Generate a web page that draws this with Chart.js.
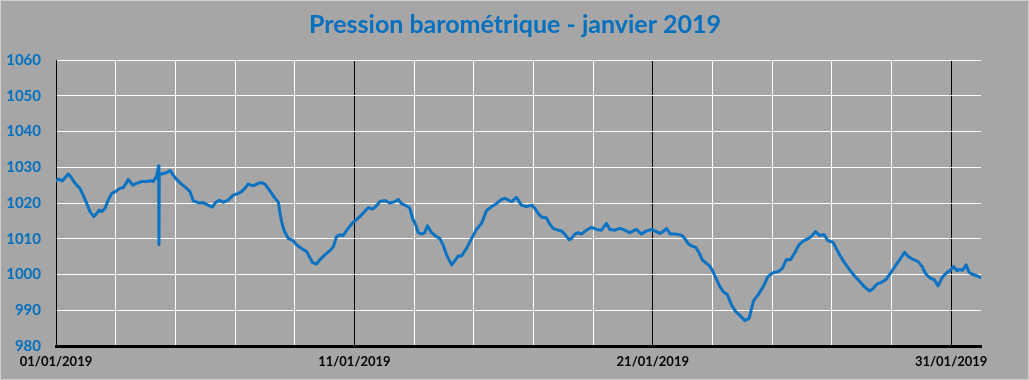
<!DOCTYPE html>
<html lang="fr">
<head>
<meta charset="utf-8">
<title>Pression barométrique - janvier 2019</title>
<script src="https://cdn.jsdelivr.net/npm/chart.js@4.4.1/dist/chart.umd.min.js"></script>
<style>
    html, body {
        margin: 0;
        padding: 0;
        background: #a6a6a6;
    }

    #wrap {
        position: relative;
        width: 1029px;
        height: 380px;
    }
</style>
</head>
<body>

<div id="wrap">
    <canvas id="pressureChart" width="1029" height="380"></canvas>
</div>

<script>

// ================================
// DATA
// ================================

// jours écoulés depuis le 01/01/2019 00:00
const jours = [
    0.00, 0.08, 0.22, 0.41, 0.49, 0.64, 0.80, 0.91, 1.03, 1.14,
    1.27, 1.36, 1.45, 1.53, 1.64, 1.75, 1.87, 2.03, 2.14, 2.25,
    2.35, 2.42, 2.57, 2.70, 2.87, 3.04, 3.15, 3.26, 3.37, 3.44,
    3.45, 3.46, 3.54, 3.71, 3.82, 3.93, 4.04, 4.21, 4.38, 4.49,
    4.60, 4.77, 4.93, 5.10, 5.24, 5.33, 5.47, 5.60, 5.77, 5.94,
    6.11, 6.22, 6.33, 6.44, 6.61, 6.78, 6.89, 7.00, 7.11, 7.23,
    7.34, 7.45, 7.50, 7.56, 7.64, 7.78, 7.95, 8.06, 8.23, 8.40,
    8.49, 8.60, 8.73, 8.84, 9.01, 9.18, 9.29, 9.40, 9.51, 9.62,
    9.79, 9.96, 10.07, 10.18, 10.29, 10.46, 10.61, 10.74, 10.85, 11.02,
    11.19, 11.36, 11.47, 11.58, 11.75, 11.86, 11.95, 12.06, 12.14, 12.25,
    12.36, 12.45, 12.59, 12.73, 12.86, 12.97, 13.09, 13.26, 13.37, 13.48,
    13.59, 13.76, 13.93, 14.09, 14.26, 14.43, 14.60, 14.76, 14.93, 15.04,
    15.19, 15.27, 15.43, 15.60, 15.77, 15.94, 16.05, 16.16, 16.27, 16.44,
    16.53, 16.66, 16.83, 16.94, 17.05, 17.20, 17.28, 17.39, 17.50, 17.61,
    17.78, 17.95, 18.11, 18.28, 18.45, 18.56, 18.73, 18.89, 19.06, 19.23,
    19.45, 19.62, 19.79, 19.96, 20.12, 20.23, 20.35, 20.46, 20.59, 20.79,
    20.96, 21.07, 21.18, 21.30, 21.44, 21.55, 21.66, 21.80, 21.91, 22.02,
    22.13, 22.24, 22.36, 22.49, 22.64, 22.78, 22.94, 23.08, 23.23, 23.31,
    23.38, 23.53, 23.70, 23.86, 24.03, 24.20, 24.34, 24.48, 24.61, 24.76,
    24.90, 25.06, 25.20, 25.31, 25.46, 25.59, 25.73, 25.87, 26.04, 26.15,
    26.26, 26.40, 26.54, 26.69, 26.82, 26.96, 27.10, 27.27, 27.40, 27.51,
    27.66, 27.83, 27.96, 28.11, 28.27, 28.44, 28.55, 28.72, 28.89, 29.03,
    29.14, 29.28, 29.45, 29.56, 29.71, 29.84, 29.97, 30.08, 30.19, 30.28,
    30.39, 30.50, 30.60, 30.73, 30.90, 31.00
];

// pression en hPa
const pression = [
    1026.2, 1026.7, 1026.2, 1028.1, 1027.4, 1025.5, 1024.1, 1022.2, 1019.9, 1017.6,
    1016.2, 1017.0, 1018.0, 1017.6, 1018.5, 1020.8, 1022.7, 1023.4, 1024.1, 1024.3,
    1025.5, 1026.6, 1025.0, 1025.5, 1026.0, 1026.0, 1026.2, 1026.0, 1027.5, 1030.4,
    1008.3, 1028.1, 1028.1, 1028.5, 1029.1, 1027.8, 1026.6, 1025.3, 1024.1, 1023.2,
    1020.6, 1020.1, 1020.1, 1019.4, 1018.8, 1020.0, 1020.8, 1020.2, 1020.8, 1022.2,
    1022.7, 1023.2, 1024.1, 1025.3, 1024.8, 1025.5, 1025.7, 1025.3, 1024.1, 1022.7,
    1021.3, 1020.3, 1017.6, 1014.8, 1012.4, 1010.1, 1009.5, 1008.3, 1007.3, 1006.4,
    1005.0, 1003.3, 1002.9, 1004.1, 1005.5, 1006.7, 1007.7, 1010.6, 1011.1, 1010.9,
    1012.9, 1014.6, 1015.3, 1016.2, 1017.1, 1018.7, 1018.3, 1019.2, 1020.4, 1020.7,
    1020.0, 1020.4, 1021.0, 1019.8, 1019.2, 1018.5, 1015.7, 1013.8, 1011.7, 1011.3,
    1011.7, 1013.6, 1011.7, 1010.7, 1010.1, 1008.3, 1005.5, 1002.7, 1003.9, 1005.2,
    1005.2, 1007.3, 1010.1, 1012.6, 1014.3, 1017.9, 1019.0, 1019.8, 1021.0, 1021.3,
    1020.7, 1020.4, 1021.6, 1019.4, 1019.0, 1019.4, 1018.5, 1017.1, 1016.1, 1015.8,
    1014.3, 1012.9, 1012.4, 1012.2, 1011.3, 1009.7, 1010.1, 1011.3, 1011.7, 1011.3,
    1012.4, 1013.2, 1012.6, 1012.4, 1014.3, 1012.6, 1012.4, 1012.9, 1012.4, 1011.7,
    1012.6, 1011.3, 1012.2, 1012.6, 1012.0, 1011.5, 1012.0, 1012.9, 1011.3, 1011.3,
    1011.0, 1010.1, 1008.7, 1008.0, 1007.6, 1006.1, 1004.1, 1003.1, 1002.4, 1000.8,
    998.7, 996.8, 995.2, 994.5, 991.5, 989.6, 988.4, 987.1, 987.7, 990.5,
    992.7, 994.3, 996.6, 999.4, 1000.5, 1000.8, 1001.7, 1004.2, 1004.1, 1006.1,
    1008.3, 1009.5, 1010.0, 1010.6, 1012.0, 1010.9, 1011.2, 1009.5, 1009.0, 1007.3,
    1005.5, 1003.6, 1002.0, 1000.3, 999.1, 997.8, 996.5, 995.4, 996.2, 997.3,
    997.8, 998.7, 1000.3, 1002.2, 1004.1, 1006.2, 1005.1, 1004.2, 1003.6, 1002.2,
    1000.3, 999.1, 998.4, 996.8, 999.3, 1000.4, 1001.2, 1002.2, 1001.1, 1001.4,
    1001.2, 1002.7, 1000.6, 1000.0, 999.5, 999.1
];

// étiquettes de l'axe des dates (tous les 10 jours)
const etiquettes = [
    "01/01/2019",
    "11/01/2019",
    "21/01/2019",
    "31/01/2019"
];

// graduations de l'axe des pressions
const pressionMin = 980;
const pressionMax = 1060;
const pressionPas = 10;


// ================================
// PLUGINS
// ================================

const fondGris = {
    id: "fondGris",

    beforeDraw(chart) {
        const ctx = chart.ctx;

        ctx.save();
        ctx.fillStyle = "#a6a6a6";
        ctx.fillRect(0, 0, chart.width, chart.height);

        ctx.strokeStyle = "#d0d0d0";
        ctx.lineWidth = 1;
        ctx.strokeRect(0.5, 0.5, chart.width - 1, chart.height - 1);
        ctx.restore();
    }
};

const titre = {
    id: "titre",

    afterDraw(chart) {
        const ctx = chart.ctx;

        ctx.save();
        ctx.fillStyle = "#0070c0";
        ctx.font = "bold 25px Lato";
        ctx.textAlign = "center";
        ctx.textBaseline = "middle";
        ctx.fillText("Pression barométrique - janvier 2019", 515, 25);
        ctx.restore();
    }
};


// ================================
// PRESSURE CHART
// ================================

const pressureCtx = document.getElementById("pressureChart");

const points = jours.map((j, i) => ({ x: j, y: pression[i] }));

new Chart(pressureCtx, {
    type: "line",

    data: {
        datasets: [{
            label: "Pression",
            data: points,
            borderColor: "#0a72c2",
            borderWidth: 3,
            borderJoinStyle: "round",
            borderCapStyle: "round",
            pointRadius: 0,
            tension: 0,
            fill: false
        }]
    },

    options: {
        responsive: false,
        animation: false,

        layout: {
            padding: { top: 60, right: 48, bottom: 0, left: 0 }
        },

        plugins: {
            legend: { display: false },
            tooltip: { enabled: false }
        },

        scales: {

            x: {
                type: "linear",
                min: 0,
                max: 31,

                afterBuildTicks: (scale) => {
                    scale.ticks = scale.ticks.filter(t => t.value % 2 === 0);
                },

                afterFit: (scale) => {
                    scale.height = 34;
                },

                ticks: {
                    stepSize: 2,
                    autoSkip: false,
                    maxRotation: 0,
                    padding: 8,
                    color: "#000000",
                    font: { family: "Lato", size: 13, weight: "bold" },
                    callback: (v) => (v % 10 === 0 ? etiquettes[v / 10] : "")
                },

                grid: {
                    drawTicks: false,
                    lineWidth: 1,
                    color: (c) => (c.tick && c.tick.value % 10 === 0 ? "#000000" : "#ffffff")
                },

                border: {
                    display: true,
                    color: "#000000",
                    width: 3
                }
            },

            y: {
                min: pressionMin,
                max: pressionMax,

                afterFit: (scale) => {
                    scale.width = 56;
                },

                ticks: {
                    stepSize: pressionPas,
                    padding: 15,
                    color: "#0070c0",
                    font: { family: "Lato", size: 15, weight: "bold" },
                    callback: (v) => String(v)
                },

                grid: {
                    drawTicks: false,
                    color: "#ffffff",
                    lineWidth: 1
                },

                border: {
                    display: true,
                    color: "#000000",
                    width: 1
                }
            }
        }
    },

    plugins: [fondGris, titre]
});

</script>
</body>
</html>
